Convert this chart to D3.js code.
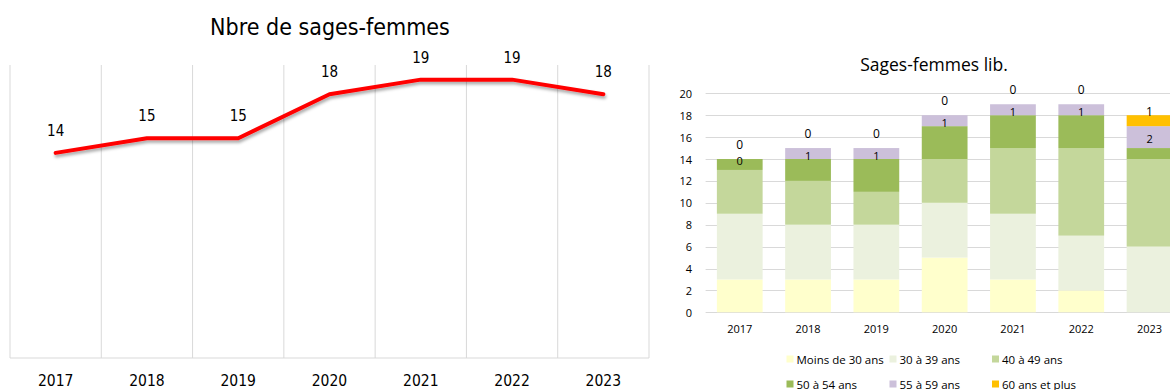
<!DOCTYPE html>
<html>
<head>
<meta charset="utf-8">
<script src="https://cdn.jsdelivr.net/npm/d3@7"></script>
<style>
  html, body { margin: 0; padding: 0; background: #fff; }
  svg { display: block; }
  .narrow { font-family: "Liberation Sans Narrow", "DejaVu Sans Condensed", "Roboto", sans-serif; }
  .std { font-family: "Open Sans", "Noto Sans", "Liberation Sans", sans-serif; }
</style>
</head>
<body>
<svg id="chart" width="1170" height="390"></svg>
<script>
// Years shared by both charts
const years = ["2017", "2018", "2019", "2020", "2021", "2022", "2023"];

// Total number of midwives per year (line chart)
const totalMidwives = [14, 15, 15, 18, 19, 19, 18];

// Independent midwives by age group (stacked bars)
const ageGroups = ["Moins de 30 ans", "30 à 39 ans", "40 à 49 ans", "50 à 54 ans", "55 à 59 ans", "60 ans et plus"];
const under30   = [3, 3, 3, 5, 3, 2, 0];
const age30to39 = [6, 5, 5, 5, 6, 5, 6];
const age40to49 = [4, 4, 3, 4, 6, 8, 8];
const age50to54 = [1, 2, 3, 3, 3, 3, 1];
const age55to59 = [0, 1, 1, 1, 1, 1, 2];
const age60plus = [0, 0, 0, 0, 0, 0, 1];
const ageColors = ["#FFFFCC", "#EBF1DE", "#C4D79B", "#9BBB59", "#CCC0DA", "#FFC000"];
const barTicks = [0, 2, 4, 6, 8, 10, 12, 14, 16, 18, 20];

const svg = d3.select("#chart");
const defs = svg.append("defs");
const shadow = defs.append("filter").attr("id", "lineShadow")
  .attr("x", "-5%").attr("y", "-20%").attr("width", "110%").attr("height", "140%");
shadow.append("feDropShadow").attr("dx", 1).attr("dy", 2.5).attr("stdDeviation", 1.5)
  .attr("flood-color", "#000").attr("flood-opacity", 0.35);

// ---------------- Line chart: Nbre de sages-femmes ----------------
{
  const g = svg.append("g").attr("class", "narrow");
  const x = d3.scaleBand().domain(years).range([10, 649]).padding(0);
  const y = d3.scaleLinear().domain([0, 20]).range([358, 65]);

  g.append("text")
    .attr("x", 330).attr("y", 27)
    .attr("text-anchor", "middle").attr("dominant-baseline", "central")
    .attr("font-size", 23).attr("fill", "#000")
    .text("Nbre de sages-femmes");

  // vertical category separators
  const bounds = years.map(d => x(d)).concat([x(years[years.length - 1]) + x.bandwidth()]);
  g.selectAll("line.vgrid").data(bounds).join("line")
    .attr("class", "vgrid")
    .attr("x1", d => d).attr("x2", d => d)
    .attr("y1", y(20)).attr("y2", y(0))
    .attr("stroke", "#d9d9d9").attr("stroke-width", 1);

  g.append("line")
    .attr("x1", bounds[0]).attr("x2", bounds[bounds.length - 1])
    .attr("y1", y(0)).attr("y2", y(0))
    .attr("stroke", "#d9d9d9").attr("stroke-width", 1);

  const pts = years.map((d, i) => ({ year: d, v: totalMidwives[i] }));
  const line = d3.line().x(d => x(d.year) + x.bandwidth() / 2).y(d => y(d.v));
  g.append("path").datum(pts)
    .attr("d", line)
    .attr("fill", "none").attr("stroke", "#FF0000").attr("stroke-width", 4)
    .attr("stroke-linejoin", "round").attr("stroke-linecap", "round")
    .attr("filter", "url(#lineShadow)");

  g.selectAll("text.val").data(pts).join("text")
    .attr("class", "val")
    .attr("x", d => x(d.year) + x.bandwidth() / 2)
    .attr("y", d => y(d.v) - 22)
    .attr("text-anchor", "middle").attr("dominant-baseline", "central")
    .attr("font-size", 15).attr("fill", "#000")
    .text(d => d.v);

  g.selectAll("text.cat").data(years).join("text")
    .attr("class", "cat")
    .attr("x", d => x(d) + x.bandwidth() / 2)
    .attr("y", 381)
    .attr("text-anchor", "middle").attr("dominant-baseline", "central")
    .attr("font-size", 15.5).attr("fill", "#000")
    .text(d => d);
}

// ---------------- Stacked bars: Sages-femmes lib. ----------------
{
  const g = svg.append("g").attr("class", "std");
  const x = d3.scaleBand().domain(years).range([705.6, 1183.7]).paddingInner(0.33).paddingOuter(0.165);
  const y = d3.scaleLinear().domain([0, 20]).range([312.3, 93.3]);

  g.append("text")
    .attr("x", 934).attr("y", 64)
    .attr("text-anchor", "middle").attr("dominant-baseline", "central")
    .attr("font-size", 17.5).attr("fill", "#000")
    .text("Sages-femmes lib.");

  g.selectAll("line.hgrid").data(barTicks).join("line")
    .attr("class", "hgrid")
    .attr("x1", 705.6).attr("x2", 1183.7)
    .attr("y1", d => Math.round(y(d)) + 0.5).attr("y2", d => Math.round(y(d)) + 0.5)
    .attr("stroke", "#d9d9d9").attr("stroke-width", 1);

  g.selectAll("text.ytick").data(barTicks).join("text")
    .attr("class", "ytick")
    .attr("x", 692).attr("y", d => y(d))
    .attr("text-anchor", "end").attr("dominant-baseline", "central")
    .attr("font-size", 11).attr("fill", "#000")
    .text(d => d);

  const rows = years.map((yr, i) => ({
    year: yr,
    [ageGroups[0]]: under30[i],
    [ageGroups[1]]: age30to39[i],
    [ageGroups[2]]: age40to49[i],
    [ageGroups[3]]: age50to54[i],
    [ageGroups[4]]: age55to59[i],
    [ageGroups[5]]: age60plus[i]
  }));
  const series = d3.stack().keys(ageGroups)(rows);

  const layers = g.selectAll("g.layer").data(series).join("g")
    .attr("class", "layer")
    .attr("fill", (d, i) => ageColors[i]);
  layers.selectAll("rect").data(d => d).join("rect")
    .attr("x", d => x(d.data.year))
    .attr("width", x.bandwidth())
    .attr("y", d => y(d[1]))
    .attr("height", d => y(d[0]) - y(d[1]));

  // value labels for 55 à 59 ans (inside the segment)
  const s55 = series[4];
  g.selectAll("text.l55").data(s55).join("text")
    .attr("class", "l55")
    .attr("x", d => x(d.data.year) + x.bandwidth() / 2)
    .attr("y", d => (y(d[0]) + y(d[1])) / 2 + 1.5)
    .attr("text-anchor", "middle").attr("dominant-baseline", "central")
    .attr("font-size", 11).attr("fill", "#000")
    .text(d => d[1] - d[0]);

  // value labels for 60 ans et plus (above the bar)
  const s60 = series[5];
  g.selectAll("text.l60").data(s60).join("text")
    .attr("class", "l60")
    .attr("x", d => x(d.data.year) + x.bandwidth() / 2)
    .attr("y", d => y(d[1]) - ((d[1] - d[0]) > 0 ? 3.5 : 14.5))
    .attr("text-anchor", "middle").attr("dominant-baseline", "central")
    .attr("font-size", 12).attr("fill", "#000")
    .text(d => d[1] - d[0]);

  g.selectAll("text.xcat").data(years).join("text")
    .attr("class", "xcat")
    .attr("x", d => x(d) + x.bandwidth() / 2)
    .attr("y", 328)
    .attr("text-anchor", "middle").attr("dominant-baseline", "central")
    .attr("font-size", 11).attr("fill", "#000")
    .text(d => d);

  // legend: two rows of three
  const legX = [786.5, 889.5, 992];
  const legY = [359, 384];
  const leg = g.selectAll("g.leg").data(ageGroups).join("g")
    .attr("class", "leg")
    .attr("transform", (d, i) => `translate(${legX[i % 3]},${legY[Math.floor(i / 3)]})`);
  leg.append("rect")
    .attr("x", 0).attr("y", -3.5).attr("width", 7).attr("height", 7)
    .attr("fill", (d, i) => ageColors[i]);
  leg.append("text")
    .attr("x", 10).attr("y", 0)
    .attr("dominant-baseline", "central")
    .attr("font-size", 11.5).attr("fill", "#000")
    .text(d => d);
}
</script>
</body>
</html>
